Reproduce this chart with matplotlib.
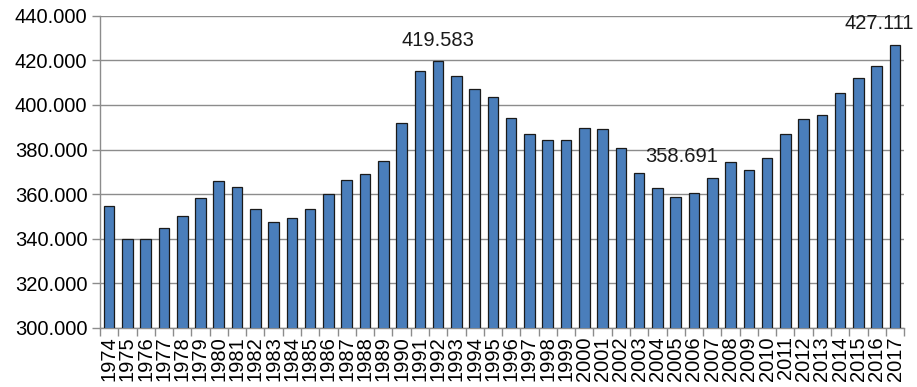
import numpy as np
import matplotlib
matplotlib.use('Agg')
import matplotlib.pyplot as plt
from matplotlib.ticker import FuncFormatter, FixedLocator

plt.rcParams['font.family'] = ['Liberation Sans', 'DejaVu Sans']

# Jahre und Werte
jahre = list(range(1974, 2018))
werte = [354700, 339800, 339900, 344700, 350000, 358300, 366100, 363400,
         353400, 347700, 349500, 353400, 360000, 366300, 369100, 374800,
         391700, 415300, 419583, 412800, 407400, 403800, 394200, 386900,
         384400, 384200, 389700, 389300, 380800, 369400, 362800, 358691,
         360300, 367200, 374200, 370900, 376000, 386900, 393600, 395700,
         405300, 411900, 417300, 427111]

# beschriftete Balken: Jahr -> Versatz des Texts in Punkten
beschriftet = {1992: (0, 8), 2005: (4, 22), 2017: (-11, 8)}

def deutsch(v, pos=None):
    return f"{v:,.0f}".replace(",", ".")

fig = plt.figure(figsize=(9.17, 3.87), dpi=100)
ax = fig.add_axes([0.109, 0.153, 0.877, 0.806])

x = np.arange(len(jahre))
ax.bar(x, werte, width=0.58, color='#4a7ebb', edgecolor='#1a1a1a',
       linewidth=0.9, zorder=3)

ax.set_ylim(300000, 440000)
ax.set_xlim(-0.5, len(jahre) - 0.5)
ax.set_yticks(np.arange(300000, 440001, 20000))
ax.yaxis.set_major_formatter(FuncFormatter(deutsch))
ax.yaxis.grid(True, color='#8c8c8c', linewidth=1.0, zorder=0)

ax.set_xticks(x)
ax.set_xticklabels([str(j) for j in jahre], rotation=90)
ax.tick_params(axis='x', which='major', length=0, pad=6, labelsize=14.5)
ax.xaxis.set_minor_locator(FixedLocator(np.arange(-0.5, len(jahre), 1.0)))
ax.tick_params(axis='x', which='minor', length=6, color='#8c8c8c', width=1.0)
ax.tick_params(axis='y', length=6, color='#8c8c8c', width=1.0, labelsize=14.5, pad=3)

for s in ['top', 'right']:
    ax.spines[s].set_visible(False)
for s in ['left', 'bottom']:
    ax.spines[s].set_color('#8c8c8c')
    ax.spines[s].set_linewidth(1.0)

for jahr, (dx, dy) in beschriftet.items():
    i = jahre.index(jahr)
    ax.annotate(deutsch(werte[i]), xy=(i, werte[i]), xytext=(dx, dy),
                textcoords='offset points', ha='center', va='bottom',
                fontsize=14.5, color='#1a1a1a', annotation_clip=False)

fig.savefig('out.png', dpi=100)
